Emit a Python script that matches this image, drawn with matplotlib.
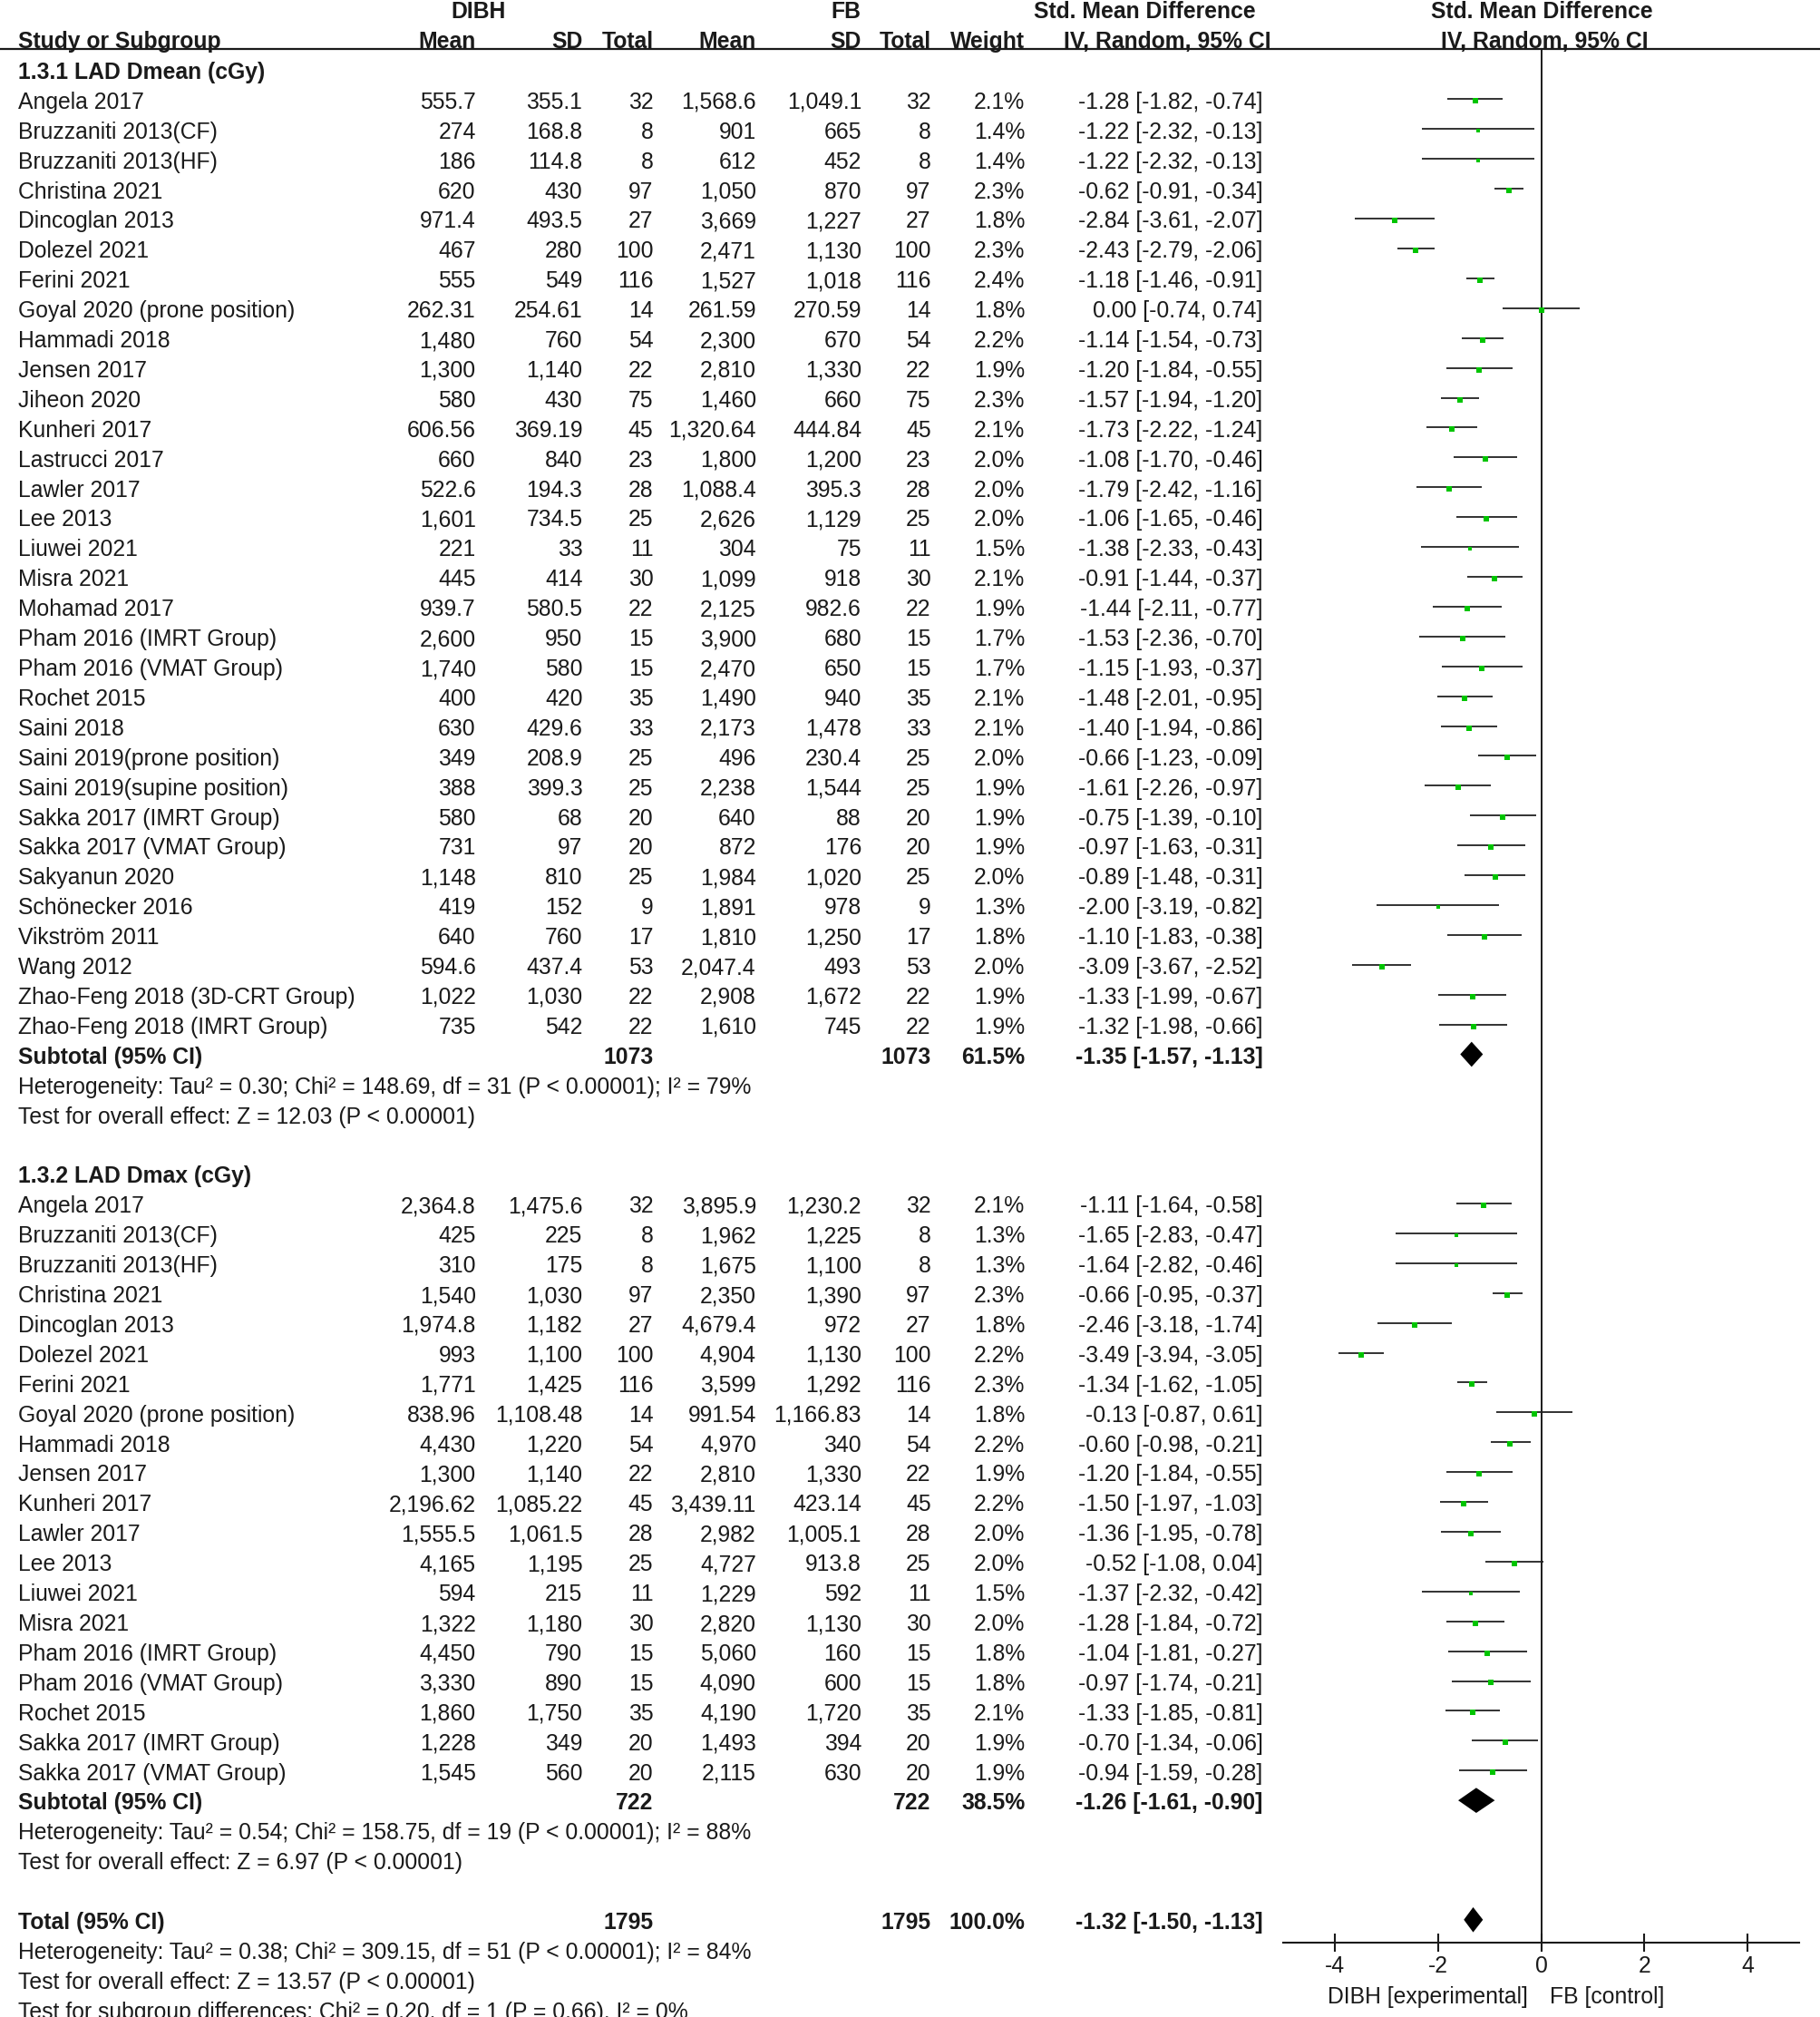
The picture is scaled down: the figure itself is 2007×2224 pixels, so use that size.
import numpy as np
import matplotlib
matplotlib.use('Agg')
import matplotlib.pyplot as plt

plt.rcParams['font.family'] = ['Liberation Sans', 'DejaVu Sans']

# ---- data: subgroup 1.3.1 LAD Dmean (cGy)
studies_1 = ['Angela 2017', 'Bruzzaniti 2013(CF)', 'Bruzzaniti 2013(HF)', 'Christina 2021',
             'Dincoglan 2013', 'Dolezel 2021', 'Ferini 2021', 'Goyal 2020 (prone position)',
             'Hammadi 2018', 'Jensen 2017', 'Jiheon 2020', 'Kunheri 2017', 'Lastrucci 2017',
             'Lawler 2017', 'Lee 2013', 'Liuwei 2021', 'Misra 2021', 'Mohamad 2017',
             'Pham 2016 (IMRT Group)', 'Pham 2016 (VMAT Group)', 'Rochet 2015', 'Saini 2018',
             'Saini 2019(prone position)', 'Saini 2019(supine position)', 'Sakka 2017 (IMRT Group)',
             'Sakka 2017 (VMAT Group)', 'Sakyanun 2020', 'Schönecker 2016', 'Vikström 2011',
             'Wang 2012', 'Zhao-Feng 2018 (3D-CRT Group)', 'Zhao-Feng 2018 (IMRT Group)']
dibh_mean_1 = ['555.7', '274', '186', '620', '971.4', '467', '555', '262.31', '1,480', '1,300',
               '580', '606.56', '660', '522.6', '1,601', '221', '445', '939.7', '2,600', '1,740',
               '400', '630', '349', '388', '580', '731', '1,148', '419', '640', '594.6', '1,022', '735']
dibh_sd_1 = ['355.1', '168.8', '114.8', '430', '493.5', '280', '549', '254.61', '760', '1,140',
             '430', '369.19', '840', '194.3', '734.5', '33', '414', '580.5', '950', '580',
             '420', '429.6', '208.9', '399.3', '68', '97', '810', '152', '760', '437.4', '1,030', '542']
n_1 = [32, 8, 8, 97, 27, 100, 116, 14, 54, 22, 75, 45, 23, 28, 25, 11, 30, 22, 15, 15,
       35, 33, 25, 25, 20, 20, 25, 9, 17, 53, 22, 22]
fb_mean_1 = ['1,568.6', '901', '612', '1,050', '3,669', '2,471', '1,527', '261.59', '2,300', '2,810',
             '1,460', '1,320.64', '1,800', '1,088.4', '2,626', '304', '1,099', '2,125', '3,900', '2,470',
             '1,490', '2,173', '496', '2,238', '640', '872', '1,984', '1,891', '1,810', '2,047.4',
             '2,908', '1,610']
fb_sd_1 = ['1,049.1', '665', '452', '870', '1,227', '1,130', '1,018', '270.59', '670', '1,330',
           '660', '444.84', '1,200', '395.3', '1,129', '75', '918', '982.6', '680', '650',
           '940', '1,478', '230.4', '1,544', '88', '176', '1,020', '978', '1,250', '493', '1,672', '745']
weight_1 = [2.1, 1.4, 1.4, 2.3, 1.8, 2.3, 2.4, 1.8, 2.2, 1.9, 2.3, 2.1, 2.0, 2.0, 2.0, 1.5, 2.1, 1.9,
            1.7, 1.7, 2.1, 2.1, 2.0, 1.9, 1.9, 1.9, 2.0, 1.3, 1.8, 2.0, 1.9, 1.9]
smd_1 = [-1.28, -1.22, -1.22, -0.62, -2.84, -2.43, -1.18, 0.00, -1.14, -1.20, -1.57, -1.73, -1.08,
         -1.79, -1.06, -1.38, -0.91, -1.44, -1.53, -1.15, -1.48, -1.40, -0.66, -1.61, -0.75, -0.97,
         -0.89, -2.00, -1.10, -3.09, -1.33, -1.32]
lo_1 = [-1.82, -2.32, -2.32, -0.91, -3.61, -2.79, -1.46, -0.74, -1.54, -1.84, -1.94, -2.22, -1.70,
        -2.42, -1.65, -2.33, -1.44, -2.11, -2.36, -1.93, -2.01, -1.94, -1.23, -2.26, -1.39, -1.63,
        -1.48, -3.19, -1.83, -3.67, -1.99, -1.98]
hi_1 = [-0.74, -0.13, -0.13, -0.34, -2.07, -2.06, -0.91, 0.74, -0.73, -0.55, -1.20, -1.24, -0.46,
        -1.16, -0.46, -0.43, -0.37, -0.77, -0.70, -0.37, -0.95, -0.86, -0.09, -0.97, -0.10, -0.31,
        -0.31, -0.82, -0.38, -2.52, -0.67, -0.66]

# ---- data: subgroup 1.3.2 LAD Dmax (cGy)
studies_2 = ['Angela 2017', 'Bruzzaniti 2013(CF)', 'Bruzzaniti 2013(HF)', 'Christina 2021',
             'Dincoglan 2013', 'Dolezel 2021', 'Ferini 2021', 'Goyal 2020 (prone position)',
             'Hammadi 2018', 'Jensen 2017', 'Kunheri 2017', 'Lawler 2017', 'Lee 2013',
             'Liuwei 2021', 'Misra 2021', 'Pham 2016 (IMRT Group)', 'Pham 2016 (VMAT Group)',
             'Rochet 2015', 'Sakka 2017 (IMRT Group)', 'Sakka 2017 (VMAT Group)']
dibh_mean_2 = ['2,364.8', '425', '310', '1,540', '1,974.8', '993', '1,771', '838.96', '4,430',
               '1,300', '2,196.62', '1,555.5', '4,165', '594', '1,322', '4,450', '3,330', '1,860',
               '1,228', '1,545']
dibh_sd_2 = ['1,475.6', '225', '175', '1,030', '1,182', '1,100', '1,425', '1,108.48', '1,220',
             '1,140', '1,085.22', '1,061.5', '1,195', '215', '1,180', '790', '890', '1,750',
             '349', '560']
n_2 = [32, 8, 8, 97, 27, 100, 116, 14, 54, 22, 45, 28, 25, 11, 30, 15, 15, 35, 20, 20]
fb_mean_2 = ['3,895.9', '1,962', '1,675', '2,350', '4,679.4', '4,904', '3,599', '991.54', '4,970',
             '2,810', '3,439.11', '2,982', '4,727', '1,229', '2,820', '5,060', '4,090', '4,190',
             '1,493', '2,115']
fb_sd_2 = ['1,230.2', '1,225', '1,100', '1,390', '972', '1,130', '1,292', '1,166.83', '340',
           '1,330', '423.14', '1,005.1', '913.8', '592', '1,130', '160', '600', '1,720',
           '394', '630']
weight_2 = [2.1, 1.3, 1.3, 2.3, 1.8, 2.2, 2.3, 1.8, 2.2, 1.9, 2.2, 2.0, 2.0, 1.5, 2.0, 1.8, 1.8,
            2.1, 1.9, 1.9]
smd_2 = [-1.11, -1.65, -1.64, -0.66, -2.46, -3.49, -1.34, -0.13, -0.60, -1.20, -1.50, -1.36, -0.52,
         -1.37, -1.28, -1.04, -0.97, -1.33, -0.70, -0.94]
lo_2 = [-1.64, -2.83, -2.82, -0.95, -3.18, -3.94, -1.62, -0.87, -0.98, -1.84, -1.97, -1.95, -1.08,
        -2.32, -1.84, -1.81, -1.74, -1.85, -1.34, -1.59]
hi_2 = [-0.58, -0.47, -0.46, -0.37, -1.74, -3.05, -1.05, 0.61, -0.21, -0.55, -1.03, -0.78, 0.04,
        -0.42, -0.72, -0.27, -0.21, -0.81, -0.06, -0.28]

# pooled results: label, n DIBH, n FB, weight, smd, lo, hi
pooled_labels = ['Subtotal (95% CI)', 'Subtotal (95% CI)', 'Total (95% CI)']
pooled_n = [1073, 722, 1795]
pooled_weight = [61.5, 38.5, 100.0]
pooled_smd = [-1.35, -1.26, -1.32]
pooled_lo = [-1.57, -1.61, -1.50]
pooled_hi = [-1.13, -0.90, -1.13]

group_titles = ['1.3.1 LAD Dmean (cGy)', '1.3.2 LAD Dmax (cGy)']
het_lines = [['Heterogeneity: Tau² = 0.30; Chi² = 148.69, df = 31 (P < 0.00001); I² = 79%',
              'Test for overall effect: Z = 12.03 (P < 0.00001)'],
             ['Heterogeneity: Tau² = 0.54; Chi² = 158.75, df = 19 (P < 0.00001); I² = 88%',
              'Test for overall effect: Z = 6.97 (P < 0.00001)'],
             ['Heterogeneity: Tau² = 0.38; Chi² = 309.15, df = 51 (P < 0.00001); I² = 84%',
              'Test for overall effect: Z = 13.57 (P < 0.00001)',
              'Test for subgroup differences: Chi² = 0.20, df = 1 (P = 0.66), I² = 0%']]

xticks = [-4, -2, 0, 2, 4]

# ---- layout (reference measured on a 1416 x 1568 grid)
W, H = 1416, 1568
Y0, DY = 54, 23.2          # first row centre, row pitch
FS = 17.8
TXT_DY = 0.1               # nudge text down so caps sit on the row centre
INK = '#1a1a1a'
GREEN = '#00c400'


def row_of(ypix):
    return (ypix - Y0) / DY


X_NAME = 14
X_COLS = [370, 453, 508, 588, 670, 724, 797, 982]

fig = plt.figure(figsize=(20.08, 22.24), dpi=100)
tax = fig.add_axes([0, 0, 1, 1])
tax.set_xlim(0, W)
tax.set_ylim(row_of(H), row_of(0))
tax.axis('off')


def put(x, k, s, ha='left', bold=False, **kw):
    tax.text(x, k + TXT_DY, s, ha=ha, va='center', fontsize=FS, color=INK,
             fontweight='bold' if bold else 'normal', **kw)


# header
hk1, hk2 = row_of(7), row_of(30)
put(372, hk1, 'DIBH', ha='center', bold=True)
put(658, hk1, 'FB', ha='center', bold=True)
put(890, hk1, 'Std. Mean Difference', ha='center', bold=True)
put(1199, hk1, 'Std. Mean Difference', ha='center', bold=True)
put(X_NAME, hk2, 'Study or Subgroup', bold=True)
for x, s in zip(X_COLS[:7], ['Mean', 'SD', 'Total', 'Mean', 'SD', 'Total', 'Weight']):
    put(x, hk2, s, ha='right', bold=True)
put(908, hk2, 'IV, Random, 95% CI', ha='center', bold=True)
put(1201, hk2, 'IV, Random, 95% CI', ha='center', bold=True)
tax.plot([0, W], [row_of(38), row_of(38)], color=INK, lw=1.6)

# forest axes
fx0, fx1, fy0, fy1 = 998, 1399, 38, 1510
fax = fig.add_axes([fx0 / W, 1 - fy1 / H, (fx1 - fx0) / W, (fy1 - fy0) / H])
fax.set_xlim(-5, 5)
fax.set_ylim(row_of(fy1), row_of(fy0))
fax.patch.set_alpha(0)
for sp in ['top', 'left', 'right']:
    fax.spines[sp].set_visible(False)
fax.spines['bottom'].set_linewidth(1.5)
fax.spines['bottom'].set_color(INK)
fax.set_yticks([])
fax.set_xticks(xticks)
fax.set_xticklabels([str(t) for t in xticks])
fax.tick_params(axis='x', direction='inout', length=14, width=1.5, pad=3,
                labelsize=FS, colors=INK)
fax.axvline(0, color=INK, lw=1.4)


def study_rows(k0, studies, dm, dsd, n, fm, fsd, w, smd, lo, hi):
    for i in range(len(studies)):
        k = k0 + i
        put(X_NAME, k, studies[i])
        vals = [dm[i], dsd[i], str(n[i]), fm[i], fsd[i], str(n[i]),
                '%.1f%%' % w[i], '%.2f [%.2f, %.2f]' % (smd[i], lo[i], hi[i])]
        for x, s in zip(X_COLS, vals):
            put(x, k, s, ha='right')
        fax.plot([lo[i], hi[i]], [k, k], color='#222222', lw=1.3, solid_capstyle='butt')
        fax.plot(smd[i], k + 0.06, marker='s', ms=3.9 * (w[i] / 2.1) ** 0.3,
                 color=GREEN, mew=0)


def pooled_row(k, j):
    put(X_NAME, k, pooled_labels[j], bold=True)
    put(X_COLS[2], k, str(pooled_n[j]), ha='right', bold=True)
    put(X_COLS[5], k, str(pooled_n[j]), ha='right', bold=True)
    put(X_COLS[6], k, '%.1f%%' % pooled_weight[j], ha='right', bold=True)
    put(X_COLS[7], k, '%.2f [%.2f, %.2f]' % (pooled_smd[j], pooled_lo[j], pooled_hi[j]),
        ha='right', bold=True)
    h = 0.42
    fax.fill([pooled_lo[j], pooled_smd[j], pooled_hi[j], pooled_smd[j]],
             [k, k - h, k, k + h], color='black', lw=0)


# subgroup 1
put(X_NAME, 0, group_titles[0], bold=True)
study_rows(1, studies_1, dibh_mean_1, dibh_sd_1, n_1, fb_mean_1, fb_sd_1,
           weight_1, smd_1, lo_1, hi_1)
k = 1 + len(studies_1)
pooled_row(k, 0)
for j, s in enumerate(het_lines[0]):
    put(X_NAME, k + 1 + j, s)

# subgroup 2
k2 = k + 4
put(X_NAME, k2, group_titles[1], bold=True)
study_rows(k2 + 1, studies_2, dibh_mean_2, dibh_sd_2, n_2, fb_mean_2, fb_sd_2,
           weight_2, smd_2, lo_2, hi_2)
k = k2 + 1 + len(studies_2)
pooled_row(k, 1)
for j, s in enumerate(het_lines[1]):
    put(X_NAME, k + 1 + j, s)

# overall
k = k + 4
pooled_row(k, 2)
for j, s in enumerate(het_lines[2]):
    put(X_NAME, k + 1 + j, s)

put(1110, row_of(1550), 'DIBH [experimental]', ha='center')
put(1250, row_of(1550), 'FB [control]', ha='center')

fig.savefig('out.png', dpi=100)
